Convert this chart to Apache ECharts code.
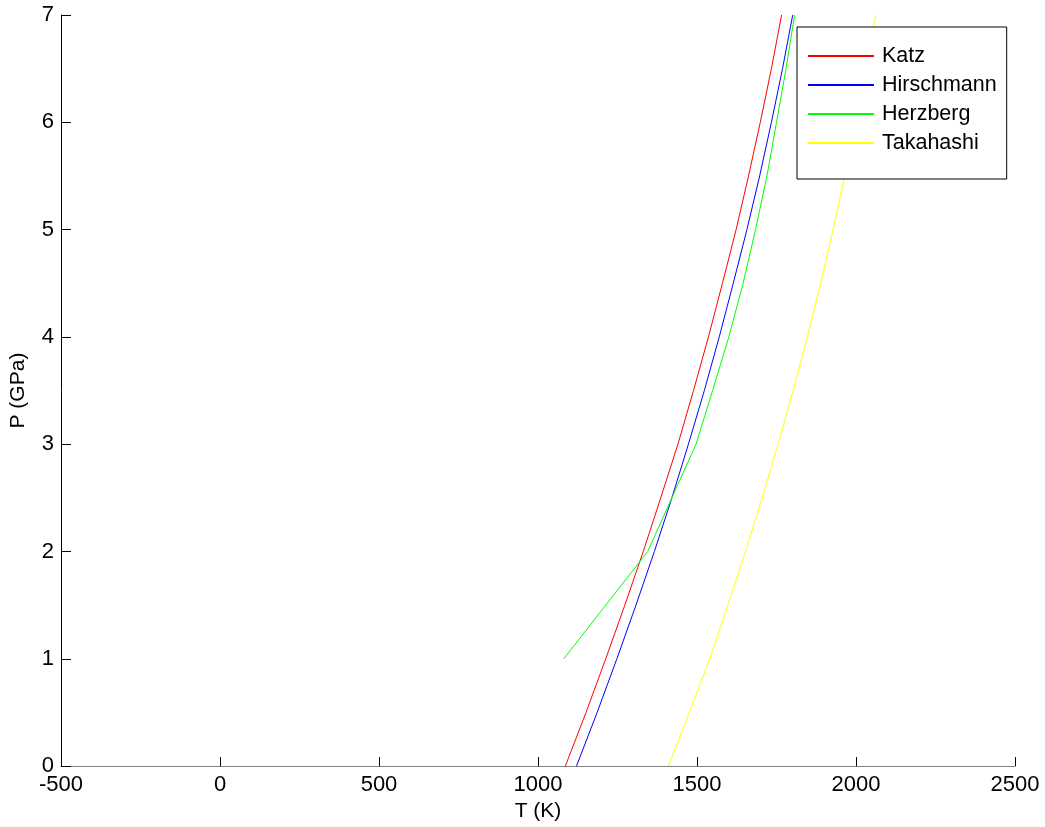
<!DOCTYPE html>
<html>
<head>
<meta charset="utf-8">
<script src="https://cdn.jsdelivr.net/npm/echarts@6/dist/echarts.min.js"></script>
<style>
html,body{margin:0;padding:0;background:#fff;}
#chart{width:1045px;height:827px;}
</style>
</head>
<body>
<div id="chart"></div>
<script>
// Pressure (GPa) and temperature values
var katzP = [0, 0.5, 1, 1.5, 2, 2.5, 3, 3.5, 4, 4.5, 5, 5.5, 6, 6.5, 7];
var katzT = [1086, 1151, 1213, 1273, 1331, 1386, 1440, 1489, 1536, 1580, 1623, 1662, 1699, 1734, 1766];

var hirschP = [0, 0.5, 1, 1.5, 2, 2.5, 3, 3.5, 4, 4.5, 5, 5.5, 6, 6.5, 7];
var hirschT = [1121, 1186, 1248, 1308, 1366, 1421, 1473, 1523, 1570, 1614, 1657, 1697, 1734, 1769, 1801];

var herzP = [1, 2, 3, 3.5, 4, 4.5, 5, 5.5, 6, 6.5, 7];
var herzT = [1081, 1345, 1497, 1549, 1600, 1645, 1684, 1720, 1750, 1780, 1807];

var takaP = [0, 0.5, 1, 1.5, 2, 2.5, 3, 3.5, 4, 4.5, 5, 5.5, 6, 6.5, 7];
var takaT = [1410, 1476, 1540, 1597, 1652, 1705, 1755, 1802, 1847, 1889, 1928, 1965, 1999, 2031, 2062];

var seriesNames = ['Katz', 'Hirschmann', 'Herzberg', 'Takahashi'];
var seriesColors = ['#ff0000', '#0000ff', '#00ff00', '#ffff00'];
var xTicks = [-500, 0, 500, 1000, 1500, 2000, 2500];
var yTicks = [0, 1, 2, 3, 4, 5, 6, 7];

function pairs(T, P) {
  var out = [];
  for (var i = 0; i < T.length; i++) out.push([T[i], P[i]]);
  return out;
}
var allData = [pairs(katzT, katzP), pairs(hirschT, hirschP), pairs(herzT, herzP), pairs(takaT, takaP)];

var font = 'Liberation Sans, Arial, Helvetica, sans-serif';
var chart = echarts.init(document.getElementById('chart'), null, {renderer: 'canvas'});
chart.setOption({
  backgroundColor: '#ffffff',
  animation: false,
  grid: {left: 59, right: 30, top: 15, bottom: 59, containLabel: false},
  xAxis: {
    type: 'value',
    min: xTicks[0], max: xTicks[xTicks.length - 1], interval: 500,
    name: 'T (K)', nameLocation: 'middle', nameGap: 33,
    nameTextStyle: {color: '#000', fontSize: 21, fontFamily: font},
    axisLine: {show: true, onZero: false, lineStyle: {color: '#808080', width: 1}},
    axisTick: {show: true, inside: true, length: 9, lineStyle: {color: '#000'}},
    axisLabel: {color: '#000', fontSize: 22, fontFamily: font, margin: 8,
      formatter: function (v) { return String(v); }},
    splitLine: {show: false}
  },
  yAxis: {
    type: 'value',
    min: yTicks[0], max: yTicks[yTicks.length - 1], interval: 1,
    name: 'P (GPa)', nameLocation: 'middle', nameGap: 32,
    nameTextStyle: {color: '#000', fontSize: 21, fontFamily: font},
    axisLine: {show: true, onZero: false, lineStyle: {color: '#000', width: 1}},
    axisTick: {show: true, inside: true, length: 10, lineStyle: {color: '#000'}},
    axisLabel: {color: '#000', fontSize: 22, fontFamily: font, margin: 7,
      formatter: function (v) { return String(v); }},
    splitLine: {show: false}
  },
  legend: {
    orient: 'vertical',
    left: 797, top: 27,
    data: seriesNames,
    backgroundColor: '#fff',
    borderColor: '#000', borderWidth: 1,
    padding: [18, 10, 25, 10],
    itemWidth: 66, itemHeight: 14, itemGap: 7,
    itemStyle: {opacity: 0},
    textStyle: {color: '#000', fontSize: 21.5, fontFamily: font, lineHeight: 20, padding: [0, 0, 0, 3]},
    selectedMode: false
  },
  series: seriesNames.map(function (n, i) {
    return {
      name: n, type: 'line', data: allData[i],
      symbol: 'none', showSymbol: false, smooth: false,
      lineStyle: {color: seriesColors[i], width: 1},
      itemStyle: {color: seriesColors[i]},
      clip: true
    };
  })
});
</script>
</body>
</html>
